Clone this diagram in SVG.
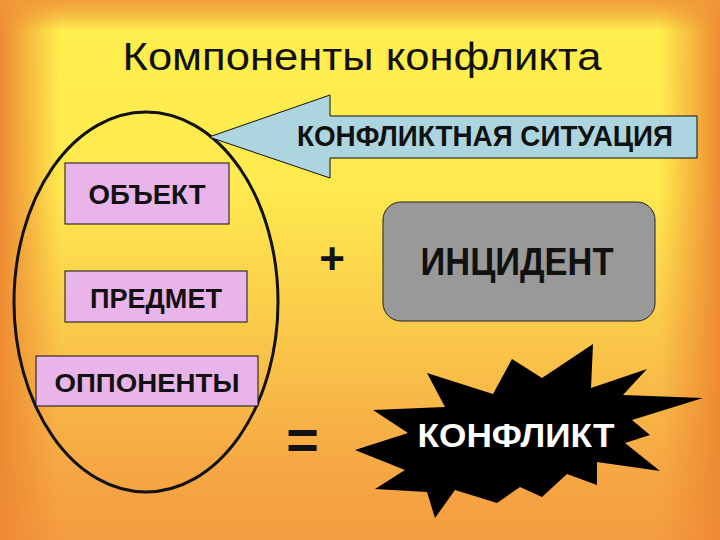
<svg xmlns="http://www.w3.org/2000/svg" width="720" height="540" viewBox="0 0 720 540">
  <defs>
    <linearGradient id="bgV" x1="0" y1="0" x2="0" y2="540" gradientUnits="userSpaceOnUse">
      <stop offset="0" stop-color="#FACB48"/>
      <stop offset="0.06" stop-color="#FFEF4E"/>
      <stop offset="0.35" stop-color="#FEE94E"/>
      <stop offset="0.65" stop-color="#F9C449"/>
      <stop offset="0.85" stop-color="#F6A944"/>
      <stop offset="1" stop-color="#F49C40"/>
    </linearGradient>
    <linearGradient id="edgeL" x1="0" y1="0" x2="60" y2="0" gradientUnits="userSpaceOnUse">
      <stop offset="0" stop-color="#EE8A32" stop-opacity="1"/>
      <stop offset="1" stop-color="#EE8A32" stop-opacity="0"/>
    </linearGradient>
    <linearGradient id="edgeR" x1="720" y1="0" x2="660" y2="0" gradientUnits="userSpaceOnUse">
      <stop offset="0" stop-color="#EE8A32" stop-opacity="1"/>
      <stop offset="1" stop-color="#EE8A32" stop-opacity="0"/>
    </linearGradient>
    <linearGradient id="edgeT" x1="0" y1="0" x2="0" y2="30" gradientUnits="userSpaceOnUse">
      <stop offset="0" stop-color="#F09A38" stop-opacity="0.9"/>
      <stop offset="1" stop-color="#F09A38" stop-opacity="0"/>
    </linearGradient>
    <style>
      .lbl { font-family: "Liberation Sans", Arial, sans-serif; font-weight: bold; fill: #111; text-anchor: middle; }
      .pink { fill: #E9B4EA; stroke: #111; stroke-width: 1; }
      .op { font-family: "Liberation Sans", Arial, sans-serif; font-weight: bold; fill: #111; text-anchor: middle; }
    </style>
  </defs>

  <rect x="0" y="0" width="720" height="540" fill="url(#bgV)"/>
  <rect x="0" y="0" width="60" height="540" fill="url(#edgeL)"/>
  <rect x="660" y="0" width="60" height="540" fill="url(#edgeR)"/>
  <rect x="0" y="0" width="720" height="30" fill="url(#edgeT)"/>

  <g id="title">
    <text x="362" y="70" font-family="Liberation Sans, Arial, sans-serif" font-size="38" fill="#111" text-anchor="middle" textLength="479" lengthAdjust="spacingAndGlyphs">Компоненты конфликта</text>
  </g>

  <g id="group-ellipse">
    <ellipse cx="146" cy="302" rx="132" ry="190" fill="none" stroke="#111" stroke-width="3"/>
  </g>

  <g id="situation-arrow">
    <polygon points="209,137 330,95 330,116 697,116 697,158 330,158 330,178" fill="#ADD5DF" stroke="#111" stroke-width="1"/>
    <text class="lbl" x="485" y="146" font-size="30" textLength="376" lengthAdjust="spacingAndGlyphs">КОНФЛИКТНАЯ СИТУАЦИЯ</text>
  </g>

  <g id="object">
    <rect class="pink" x="65" y="163" width="164" height="61"/>
    <text class="lbl" x="147" y="204" font-size="28" textLength="117" lengthAdjust="spacingAndGlyphs">ОБЪЕКТ</text>
  </g>

  <g id="subject">
    <rect class="pink" x="65" y="271" width="182" height="51"/>
    <text class="lbl" x="156" y="308" font-size="27" textLength="132" lengthAdjust="spacingAndGlyphs">ПРЕДМЕТ</text>
  </g>

  <g id="opponents">
    <rect class="pink" x="36" y="356" width="222" height="50"/>
    <text class="lbl" x="147" y="392" font-size="26" textLength="185" lengthAdjust="spacingAndGlyphs">ОППОНЕНТЫ</text>
  </g>

  <g id="plus">
    <text class="op" x="332" y="274" font-size="44">+</text>
  </g>

  <g id="incident">
    <rect x="383" y="202" width="272" height="119" rx="18" ry="18" fill="#999999" stroke="#222" stroke-width="1"/>
    <text class="lbl" x="517" y="275" font-size="38" textLength="193" lengthAdjust="spacingAndGlyphs">ИНЦИДЕНТ</text>
  </g>

  <g id="equals">
    <text class="op" x="302.5" y="459" font-size="56">=</text>
  </g>

  <g id="conflict">
    <polygon points="593,344 591,388 647,369 623,395 703,398 632,420 650,435 625,443 660,471 597,462 597,485 567,474 542,497 520,487 497,503 455,490 435,518 427,492 375,489 405,470 355,450 408,433 373,410 445,407 427,373 493,394 512,359 542,378" fill="#000"/>
    <text x="516" y="447" font-family="Liberation Sans, Arial, sans-serif" font-weight="bold" font-size="34" fill="#FFF" text-anchor="middle" textLength="197" lengthAdjust="spacingAndGlyphs">КОНФЛИКТ</text>
  </g>

  <g id="connectors"></g>
</svg>
